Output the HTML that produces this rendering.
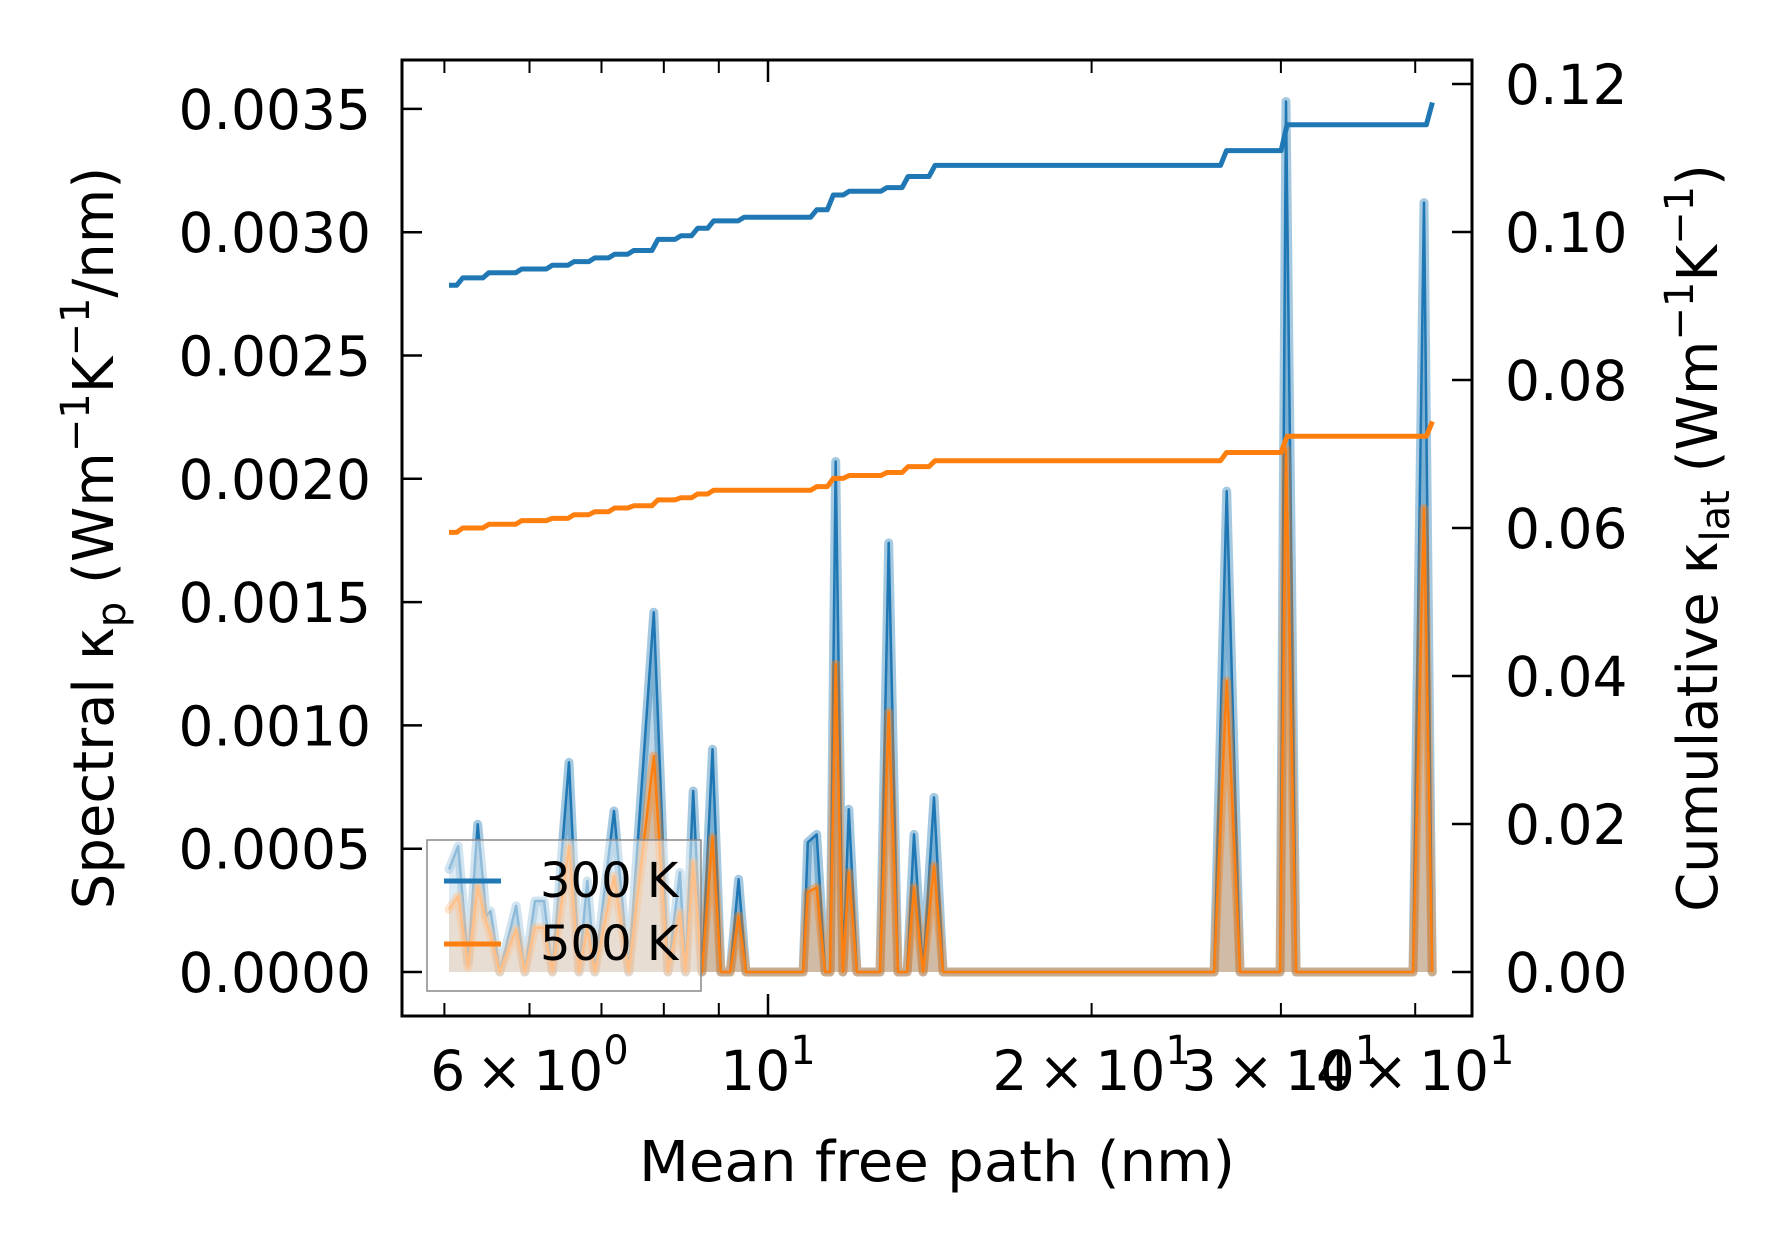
<!DOCTYPE html>
<html><head><meta charset="utf-8"><style>
html,body{margin:0;padding:0;background:#fff}
svg{display:block}
text{font-family:"DejaVu Sans","Liberation Sans",sans-serif;fill:#000}
</style></head><body>
<svg id="chart" width="1790" height="1253" viewBox="0 0 1790 1253" xmlns="http://www.w3.org/2000/svg">
<rect width="1790" height="1253" fill="#fff"/>
<g id="plot"></g>
<g id="axes"></g>
<text x="937" y="1181" font-size="56" text-anchor="middle" textLength="596" lengthAdjust="spacingAndGlyphs">Mean free path (nm)</text>
<text transform="translate(113,538) rotate(-90)" font-size="56" text-anchor="middle">Spectral κ<tspan font-size="40" dy="12">p</tspan><tspan dy="-12"> (Wm</tspan><tspan font-size="40" dy="-24">−1</tspan><tspan dy="24">K</tspan><tspan font-size="40" dy="-24">−1</tspan><tspan dy="24">/nm)</tspan></text>
<text transform="translate(1717,538) rotate(-90)" font-size="56" text-anchor="middle">Cumulative κ<tspan font-size="40" dy="12">lat</tspan><tspan dy="-12"> (Wm</tspan><tspan font-size="40" dy="-24">−1</tspan><tspan dy="24">K</tspan><tspan font-size="40" dy="-24">−1</tspan><tspan dy="24">)</tspan></text>
</svg>
<script>
// spectral data
const mfp = [5.05,5.15,5.26,5.37,5.47,5.52,5.63,5.83,5.94,6.07,6.19,6.30,6.53,6.67,6.79,6.90,7.19,7.42,7.83,8.07,8.28,8.38,8.52,8.68,8.88,9.04,9.22,9.39,9.54,10.78,10.89,11.10,11.30,11.42,11.56,11.74,11.89,12.10,12.71,12.95,13.21,13.47,13.67,13.94,14.27,14.55,26.00,26.71,27.49,29.95,30.33,30.99,39.81,40.76,41.48];
const spec300 = [0.000416,0.000511,0.00004,0.000599,0.000227,0.000247,0,0.000268,0,0.000288,0.000288,0,0.00085,0,0.000369,0,0.000653,0,0.001459,0,0.000404,0,0.000734,0,0.000903,0,0,0.000376,0,0,0.000526,0.000558,0,0,0.00207,0,0.00066,0,0,0.00174,0,0,0.000558,0,0.000708,0,0,0.00195,0,0,0.00353,0,0,0.00312,0];
const spec500 = [0.000254,0.000308,0.00002,0.000349,0.0002,0.00015,0,0.000173,0,0.00018,0.00018,0,0.000511,0,0.00018,0,0.000389,0,0.000876,0,0.000242,0,0.000445,0,0.000546,0,0,0.000227,0,0,0.000323,0.000343,0,0,0.001248,0,0.000404,0,0,0.001053,0,0,0.000343,0,0.00043,0,0,0.00118,0,0,0.00212,0,0,0.00188,0];
// cumulative data
const cumMfp = [5.05,5.2,5.5,5.9,6.3,6.6,6.9,7.2,7.5,7.9,8.3,8.6,8.9,9.5,10.8,11.1,11.5,11.9,12.9,13.5,14.3,26.0,26.7,29.9,30.4,40.3,41.5];
const cum300 = [0.0928,0.0938,0.0945,0.0950,0.0955,0.0960,0.0965,0.0970,0.0975,0.0990,0.0995,0.1005,0.1015,0.1020,0.1020,0.1030,0.1050,0.1055,0.1060,0.1075,0.1090,0.1090,0.1110,0.1110,0.1145,0.1145,0.1175];
const cum500 = [0.0594,0.0600,0.0605,0.0610,0.0613,0.0618,0.0622,0.0627,0.0630,0.0638,0.0641,0.0646,0.0651,0.0651,0.0651,0.0656,0.0667,0.0671,0.0675,0.0683,0.0691,0.0691,0.0702,0.0702,0.0724,0.0724,0.0744];
// ticks
const leftTicks = [0,0.0005,0.001,0.0015,0.002,0.0025,0.003,0.0035];
const leftTickLabels = ["0.0000","0.0005","0.0010","0.0015","0.0020","0.0025","0.0030","0.0035"];
const rightTicks = [0,0.02,0.04,0.06,0.08,0.10,0.12];
const rightTickLabels = ["0.00","0.02","0.04","0.06","0.08","0.10","0.12"];
const xMajor = [10];
const xMinor = [5,6,7,8,9,20,30,40];
const xLabelVals = [6,10,20,30,40];
const xLabelMant = ["6","","2","3","4"];
const xLabelExp = ["0","1","1","1","1"];

const L=402,R=1472,T=60,B=1016;
const NS="http://www.w3.org/2000/svg";
function xs(m){return 768+1075*(Math.log10(m)-1);}
function yl(v){return 972-v*123.3/0.0005;}
function yr(v){return 972-v*148/0.02;}
function mk(tag,attrs,parent){const e=document.createElementNS(NS,tag);for(const k in attrs)e.setAttribute(k,attrs[k]);parent.appendChild(e);return e;}
const plot=document.getElementById('plot'), axes=document.getElementById('axes');

function specPaths(vals,color,name){
  let line='';
  for(let i=0;i<mfp.length;i++){line+=(i?'L':'M')+xs(mfp[i]).toFixed(1)+','+yl(vals[i]).toFixed(1);}
  const fillD=line+'L'+xs(mfp[mfp.length-1]).toFixed(1)+','+yl(0)+'L'+xs(mfp[0]).toFixed(1)+','+yl(0)+'Z';
  const f=mk('path',{d:fillD,fill:color,'fill-opacity':0.3,stroke:'none'},plot);
  
  
  const h=mk('path',{d:line,fill:'none',stroke:color,'stroke-opacity':0.4,'stroke-width':9,'stroke-linejoin':'round','stroke-linecap':'round'},plot);
  
  
  const l=mk('path',{d:line,fill:'none',stroke:color,'stroke-width':2.5,'stroke-linejoin':'round'},plot);
  
  
}
specPaths(spec300,'#1f77b4','spectral-300k');
specPaths(spec500,'#ff7f0e','spectral-500k');

function cumPath(vals,color,name){
  let d='M'+xs(cumMfp[0]).toFixed(1)+','+yr(vals[0]).toFixed(1);
  for(let i=1;i<cumMfp.length;i++){
    const x=xs(cumMfp[i]), xp=xs(cumMfp[i-1]);
    const hx=Math.max(xp,x-6);
    d+='L'+hx.toFixed(1)+','+yr(vals[i-1]).toFixed(1)+'L'+x.toFixed(1)+','+yr(vals[i]).toFixed(1);
  }
  const p=mk('path',{d:d,fill:'none',stroke:color,'stroke-width':5,'stroke-linejoin':'round'},plot);
  
  
}
cumPath(cum300,'#1f77b4','cumulative-300k');
cumPath(cum500,'#ff7f0e','cumulative-500k');

// legend
const lg=mk('g',{},axes);


mk('rect',{x:427,y:840,width:274,height:151,fill:'#fff','fill-opacity':0.5,stroke:'#888','stroke-width':1.5},lg);
const e1=mk('g',{},lg);


mk('line',{x1:444,x2:501,y1:881,y2:881,stroke:'#1f77b4','stroke-width':5},e1);
mk('text',{x:540,y:897,'font-size':48},e1).textContent='300 K';
const e2=mk('g',{},lg);


mk('line',{x1:444,x2:501,y1:944,y2:944,stroke:'#ff7f0e','stroke-width':5},e2);
mk('text',{x:540,y:960,'font-size':48},e2).textContent='500 K';

// frame
const fr=mk('rect',{x:L,y:T,width:R-L,height:B-T,fill:'none',stroke:'#000','stroke-width':3},axes);



// left ticks
leftTicks.forEach((v,i)=>{
  const y=yl(v);
  mk('line',{x1:L,x2:L+20,y1:y,y2:y,stroke:'#000','stroke-width':2.5},axes);
  const t=mk('text',{x:371,y:y+20,'font-size':55,'text-anchor':'end'},axes);
  
  
  t.textContent=leftTickLabels[i];
});
// right ticks
rightTicks.forEach((v,i)=>{
  const y=yr(v);
  mk('line',{x1:R-20,x2:R,y1:y,y2:y,stroke:'#000','stroke-width':2.5},axes);
  const t=mk('text',{x:1505,y:y+20,'font-size':55},axes);
  
  
  t.textContent=rightTickLabels[i];
});
// x ticks
xMajor.forEach(m=>{const x=xs(m);
  mk('line',{x1:x,x2:x,y1:B,y2:B-22,stroke:'#000','stroke-width':2.5},axes);
  mk('line',{x1:x,x2:x,y1:T,y2:T+22,stroke:'#000','stroke-width':2.5},axes);});
xMinor.forEach(m=>{const x=xs(m);
  mk('line',{x1:x,x2:x,y1:B,y2:B-13,stroke:'#000','stroke-width':2},axes);
  mk('line',{x1:x,x2:x,y1:T,y2:T+13,stroke:'#000','stroke-width':2},axes);});
xLabelVals.forEach((m,i)=>{
  const t=mk('text',{x:xs(m),y:1090,'font-size':55,'text-anchor':'middle'},axes);
  
  
  const base=xLabelMant[i]?xLabelMant[i]+'\u2009\u00d7\u200910':'10';
  t.appendChild(document.createTextNode(base));
  const s=mk('tspan',{dy:-26,'font-size':40},t);s.textContent=xLabelExp[i];
});
</script>
</body></html>
